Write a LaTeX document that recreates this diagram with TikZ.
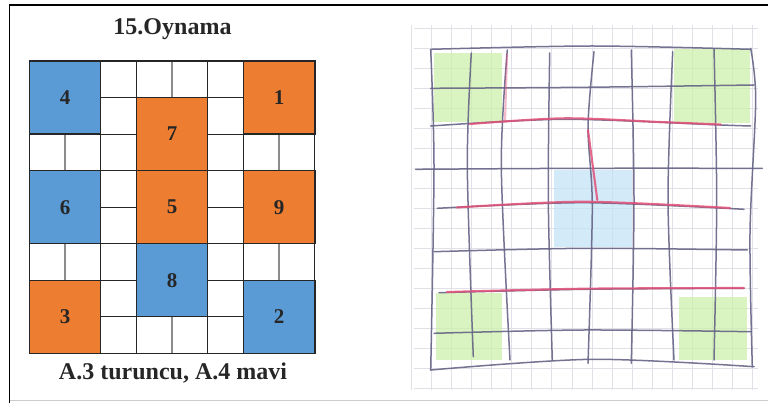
\documentclass[tikz,border=0pt]{standalone}
\usepackage{fontspec}
\setmainfont{Liberation Serif}
\usetikzlibrary{positioning}
\definecolor{tileblue}{RGB}{91,155,213}
\definecolor{tileorange}{RGB}{237,125,49}
\definecolor{pencil}{RGB}{102,100,134}
\definecolor{redpen}{RGB}{226,80,120}
\definecolor{greenhatch}{RGB}{204,240,172}
\definecolor{bluehatch}{RGB}{196,228,247}
\definecolor{paper}{RGB}{224,224,230}
\newcommand{\cw}{35.7}
\newcommand{\ch}{36.55}
\begin{document}
\begin{tikzpicture}[x=1pt,y=-1pt,
  cell/.style={draw=black!85,line width=1.1pt,fill=white},
  seam/.style={draw=black!45,line width=2.2pt,shorten <=0.6pt,shorten >=0.6pt},
  tile/.style={draw=black!85,line width=1.2pt,minimum width=71.4pt,minimum height=73.1pt,inner sep=0pt,font=\fontsize{21}{21}\selectfont\bfseries,text=black!85},
  label/.style={font=\fontsize{24}{26}\selectfont\bfseries,text=black!85,inner sep=0pt},
  paperline/.style={paper,line width=0.6pt},
  handline/.style={pencil,line width=1.5pt,line cap=round,line join=round,opacity=0.9},
  redline/.style={redpen,line width=2.1pt,line cap=round,opacity=0.85}]
\useasboundingbox (0,0) rectangle (768,403);
\draw[black,line width=1.8pt] (9.5,403) -- (9.5,5) -- (768,5);
\draw[black!20,line width=1pt] (9.5,400) -- (768,400);
% puzzle
\node[label] (title) at (172.5,29) {15.Oynama};
\foreach \c in {2,5}{\foreach \r in {0,...,7}{\draw[cell] ({29.3+\c*\cw},{61+\r*\ch}) rectangle +(\cw,\ch);}}
\foreach \c/\r in {3/0,4/0,3/7,4/7,0/2,1/2,6/2,7/2,0/5,1/5,6/5,7/5}{\draw[cell] ({29.3+\c*\cw},{61+\r*\ch}) rectangle +(\cw,\ch);}
\foreach \c/\r in {4/0,4/7,1/2,1/5,7/2,7/5}{\draw[seam] ({29.3+\c*\cw},{61+\r*\ch}) -- +(0,\ch);}
\foreach \n/\c/\r/\col in {4/0/0/tileblue,1/6/0/tileorange,7/3/1/tileorange,6/0/3/tileblue,5/3/3/tileorange,9/6/3/tileorange,8/3/5/tileblue,3/0/6/tileorange,2/6/6/tileblue}{
  \node[tile,fill=\col] (t\n) at ({29.3+(\c+1)*\cw},{61+(\r+1)*\ch}) {\n};}
\node[label] (caption) at (173,373) {A.3 turuncu, A.4 mavi};
% sketch
\foreach \i in {0,...,17}{\draw[paperline] ({411+\i*20.1},25) -- ({411+\i*20.1},390);}
\foreach \j in {0,...,18}{\draw[paperline] (414,{28+\j*20}) -- (758,{28+\j*20});}
\fill[greenhatch,opacity=0.75] (434,53) rectangle (502,122);
\fill[greenhatch,opacity=0.75] (674,49) rectangle (750,123);
\fill[greenhatch,opacity=0.75] (436,293) rectangle (502,360);
\fill[greenhatch,opacity=0.75] (679,297) rectangle (747,360);
\fill[bluehatch,opacity=0.75] (554,170) rectangle (632,247);
\draw[handline] plot[smooth] coordinates {(430.7,50) (434,166.7) (430.7,370)};
\draw[handline] plot[smooth] coordinates {(471.3,53) (467.3,166.7) (473.3,356.7)};
\draw[handline] plot[smooth] coordinates {(507.3,50) (501.3,166.7) (510,360)};
\draw[handline] plot[smooth] coordinates {(549.7,53) (548.3,200) (552.3,360)};
\draw[handline] plot[smooth] coordinates {(594,51.7) (588,126.7) (592.3,206.7) (588,363.3)};
\draw[handline] plot[smooth] coordinates {(631.3,50) (634,200) (631.3,363.3)};
\draw[handline] plot[smooth] coordinates {(672.7,51.7) (668,200) (674,360)};
\draw[handline] plot[smooth] coordinates {(714,48.3) (716.7,200) (714,360)};
\draw[handline] plot[smooth] coordinates {(750.7,48.3) (755.7,100) (750,233) (752.3,366.7)};
\draw[handline] plot[smooth] coordinates {(430.7,49.3) (592.3,46) (750.7,49.3)};
\draw[handline] plot[smooth] coordinates {(430.7,88.3) (584,87.3) (754,85)};
\draw[handline] plot[smooth] coordinates {(430.7,126) (564,119.3) (720.7,125) (750.7,126)};
\draw[handline] plot[smooth] coordinates {(415.7,169.3) (584,168.3) (762.3,168.3)};
\draw[handline] plot[smooth] coordinates {(437.3,208.3) (584,202.7) (744,209.3)};
\draw[handline] plot[smooth] coordinates {(434,251.7) (584,248.3) (747.3,250)};
\draw[handline] plot[smooth] coordinates {(439,292.7) (584,289.3) (744,288.3)};
\draw[handline] plot[smooth] coordinates {(434,333.3) (584,330) (750.7,331.7)};
\draw[handline] plot[smooth] coordinates {(430.7,370) (592.3,359.3) (754,366.7)};
\draw[redline] plot[smooth] coordinates {(470,124) (564,118.3) (660,122) (720.7,124.5)};
\draw[redline] plot[smooth] coordinates {(457,207.5) (584,201.7) (730,208)};
\draw[redline] plot[smooth] coordinates {(447,292) (584,288.7) (744,288)};
\draw[redline] (588,130) -- (597.3,200);
\draw[redline,opacity=0.4] (507,55) -- (505,122);
\end{tikzpicture}
\end{document}
